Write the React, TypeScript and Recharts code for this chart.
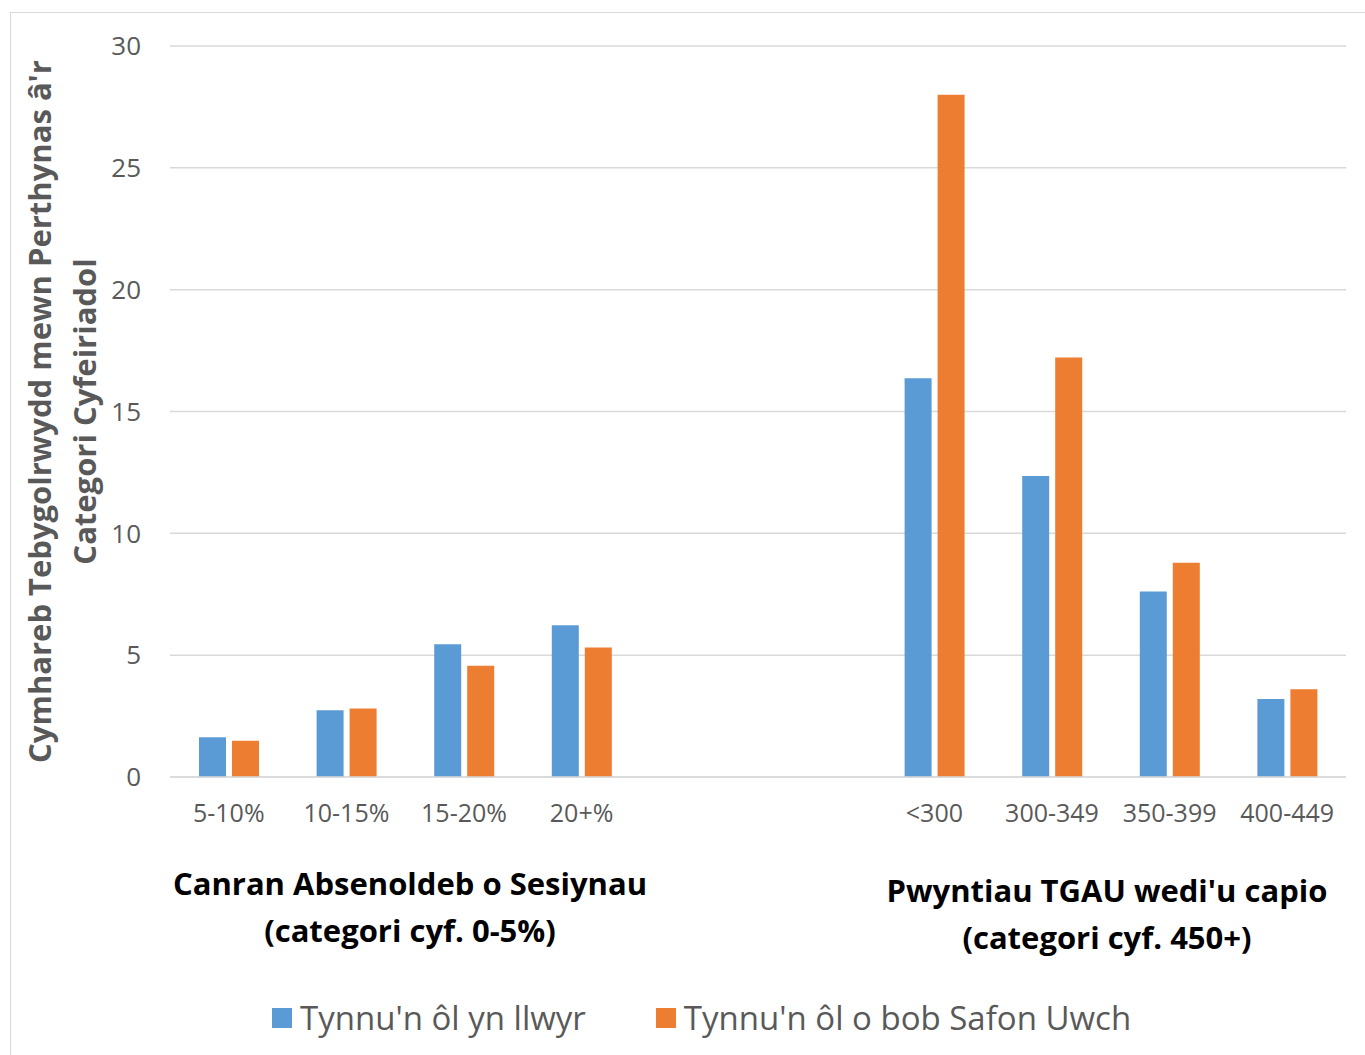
import {Bar, BarChart, CartesianGrid, Legend, XAxis, YAxis} from "recharts";

const categories = ["5-10%", "10-15%", "15-20%", "20+%", "", " ", "<300", "300-349", "350-399", "400-449"];
const withdrawnFully = [1.63, 2.74, 5.45, 6.23, null, null, 16.36, 12.35, 7.61, 3.2];
const withdrawnAllALevels = [1.49, 2.81, 4.57, 5.31, null, null, 28.0, 17.22, 8.79, 3.6];
const yTicks = [0, 5, 10, 15, 20, 25, 30];

const seriesNames = ["Tynnu'n ôl yn llwyr", "Tynnu'n ôl o bob Safon Uwch"];
const colors = ["#5B9BD5", "#ED7D31"];

const data = categories.map((name, i) => ({
    name,
    fully: withdrawnFully[i],
    allA: withdrawnAllALevels[i],
}));

const FONT = "'Open Sans', 'Noto Sans', sans-serif";
const GREY = "#595959";

function YTitle({viewBox}: any) {
    const cy = viewBox.y + viewBox.height / 2;
    return (
        <g fontFamily={FONT} fontWeight={700} fontSize={31} fill={GREY} textAnchor="middle">
            <text transform={`translate(40, ${cy}) rotate(-90)`} dy="0.35em">
                Cymhareb Tebygolrwydd mewn Perthynas â'r
            </text>
            <text transform={`translate(85, ${cy}) rotate(-90)`} dy="0.35em">
                Categori Cyfeiriadol
            </text>
        </g>
    );
}

function LegendBox() {
    return (
        <div style={{display: "flex", alignItems: "center", fontFamily: FONT, fontSize: 33, color: GREY, lineHeight: "44px"}}>
            {seriesNames.map((s, i) => (
                <div key={s} style={{display: "flex", alignItems: "center", marginRight: 70}}>
                    <span style={{width: 20, height: 20, background: colors[i], marginRight: 8, display: "inline-block"}}/>
                    <span>{s}</span>
                </div>
            ))}
        </div>
    );
}

const groupStyle: React.CSSProperties = {
    position: "absolute",
    fontFamily: FONT,
    fontWeight: 700,
    fontSize: 31,
    color: "#000",
    textAlign: "center",
    lineHeight: "47px",
};

export default function App() {
    return (
        <div style={{position: "absolute", left: 0, top: 0, width: 1365, height: 1055, background: "#fff", overflow: "hidden"}}>
            <div style={{position: "absolute", left: 10, top: 12, width: 1365, height: 1055, border: "1px solid #D9D9D9"}}/>
            <BarChart
                width={1365}
                height={1055}
                data={data}
                margin={{top: 46, right: 19, bottom: 238, left: 0}}
                barSize={27}
                barGap={6}
            >
                <CartesianGrid vertical={false} stroke="#D9D9D9" strokeWidth={1.5}/>
                <XAxis
                    dataKey="name"
                    interval={0}
                    height={40}
                    tickLine={false}
                    axisLine={{stroke: "#D9D9D9", strokeWidth: 1.5}}
                    tickMargin={21}
                    tick={{fill: GREY, fontSize: 25, fontFamily: FONT}}
                />
                <YAxis
                    width={170}
                    domain={[0, 30]}
                    ticks={yTicks}
                    tickLine={false}
                    axisLine={false}
                    tickMargin={23}
                    tick={{fill: GREY, fontSize: 26, fontFamily: FONT}}
                    label={<YTitle/>}
                />
                <Legend
                    layout="horizontal"
                    verticalAlign="middle"
                    align="center"
                    content={<LegendBox/>}
                    wrapperStyle={{top: 996, left: 272, width: 1080}}
                />
                <Bar dataKey="fully" name={seriesNames[0]} fill={colors[0]} isAnimationActive={false}/>
                <Bar dataKey="allA" name={seriesNames[1]} fill={colors[1]} isAnimationActive={false}/>
            </BarChart>
            <div style={{...groupStyle, left: 110, top: 860, width: 600}}>
                Canran Absenoldeb o Sesiynau<br/>(categori cyf. 0-5%)
            </div>
            <div style={{...groupStyle, left: 807, top: 867, width: 600}}>
                Pwyntiau TGAU wedi'u capio<br/>(categori cyf. 450+)
            </div>
        </div>
    );
}
